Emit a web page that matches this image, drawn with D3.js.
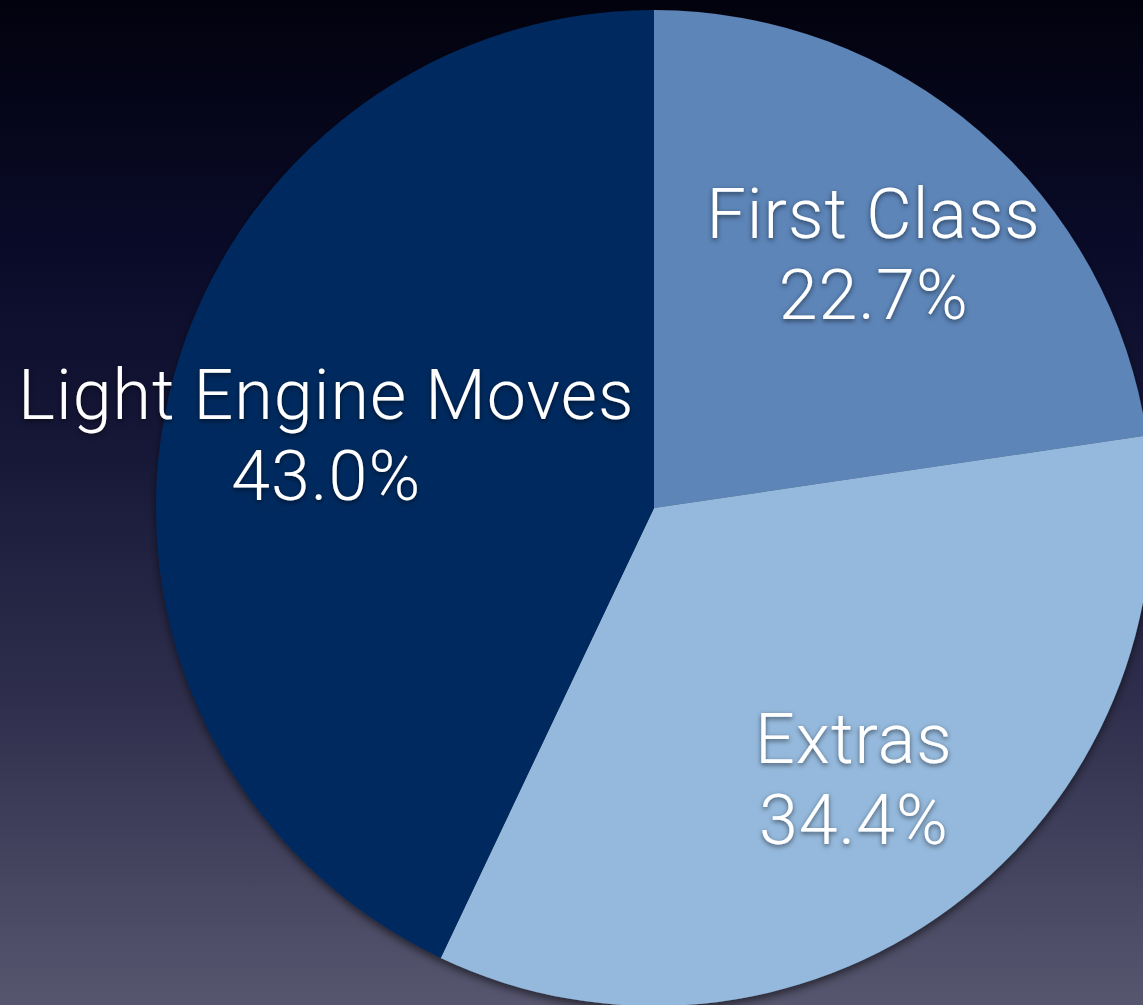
<!DOCTYPE html>
<html>
<head>
<meta charset="utf-8">
<script src="https://cdn.jsdelivr.net/npm/d3@7"></script>
<style>
  html, body { margin: 0; padding: 0; background: #03030f; }
  svg { display: block; }
</style>
</head>
<body>
<svg id="chart" width="1143" height="1005"></svg>
<script>
// Share of train movements by type
const categories = ["First Class", "Extras", "Light Engine Moves"];
const shares = [22.7, 34.4, 43.0];
const labels = ["22.7%", "34.4%", "43.0%"];
const sliceColors = ["#5d85b8", "#95b9dc", "#002a5f"];

const W = 1143, H = 1005;
const cx = 654, cy = 508, radius = 498;

const svg = d3.select("#chart");
const defs = svg.append("defs");

// dark navy to dusky violet backdrop
const bg = defs.append("linearGradient")
  .attr("id", "bg").attr("x1", 0).attr("y1", 0).attr("x2", 0).attr("y2", 1);
[[0, "#02020e"], [0.25, "#0a0b29"], [0.45, "#171838"], [0.7, "#2f2f4d"], [1, "#57566f"]]
  .forEach(([o, c]) => bg.append("stop").attr("offset", o).attr("stop-color", c));

const pieShadow = defs.append("filter").attr("id", "pieShadow")
  .attr("x", "-10%").attr("y", "-10%").attr("width", "120%").attr("height", "120%");
pieShadow.append("feDropShadow").attr("dx", 0).attr("dy", 4).attr("stdDeviation", 4)
  .attr("flood-color", "#000").attr("flood-opacity", 0.55);

const textShadow = defs.append("filter").attr("id", "textShadow")
  .attr("x", "-10%").attr("y", "-30%").attr("width", "120%").attr("height", "160%");
textShadow.append("feDropShadow").attr("dx", 0).attr("dy", 2).attr("stdDeviation", 2.5)
  .attr("flood-color", "#000").attr("flood-opacity", 0.55);

svg.append("rect").attr("width", W).attr("height", H).attr("fill", "url(#bg)");

const data = categories.map((c, i) => ({ name: c, value: shares[i], label: labels[i], color: sliceColors[i] }));

const pie = d3.pie().sort(null).value(d => d.value);
const arcs = pie(data);
const arc = d3.arc().innerRadius(0).outerRadius(radius);
const labelArc = d3.arc().innerRadius(336).outerRadius(336);

const g = svg.append("g").attr("transform", `translate(${cx},${cy})`);

g.append("g").attr("filter", "url(#pieShadow)")
  .selectAll("path").data(arcs).join("path")
  .attr("d", arc)
  .attr("fill", d => d.data.color);

const fontSize = 70;
const lbl = g.append("g").attr("filter", "url(#textShadow)")
  .selectAll("text").data(arcs).join("text")
  .attr("transform", d => { const [x, y] = labelArc.centroid(d); return `translate(${x},${y})`; })
  .attr("text-anchor", "middle")
  .attr("fill", "#ffffff")
  .style("font-family", "'Helvetica Neue', Roboto, 'Open Sans', sans-serif")
  .style("font-weight", 300)
  .style("font-size", fontSize + "px")
  .style("letter-spacing", "1px");

lbl.append("tspan").attr("x", 0).attr("y", -15.5).text(d => d.data.name);
lbl.append("tspan").attr("x", 0).attr("y", 65.5).text(d => d.data.label);
</script>
</body>
</html>
